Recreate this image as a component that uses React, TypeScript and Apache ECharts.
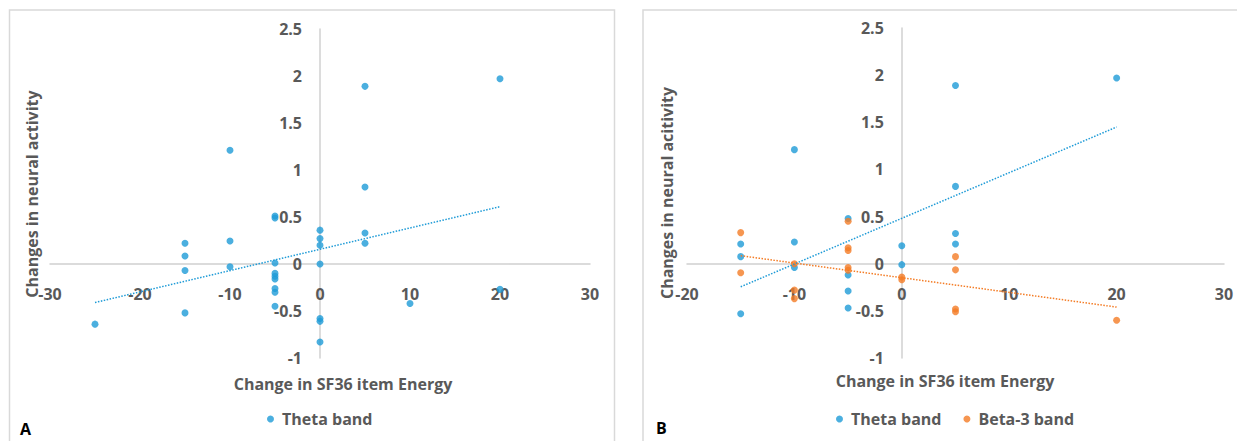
import React, { useEffect, useRef } from "react";
import * as echarts from "echarts";

// Panel A: Theta band (x = change in SF36 Energy, y = change in neural activity)
const thetaA: number[][] = [
  [-25, -0.64],
  [-15, 0.22], [-15, 0.085], [-15, -0.07], [-15, -0.52],
  [-10, 1.21], [-10, 0.245], [-10, -0.03],
  [-5, 0.51], [-5, 0.49], [-5, 0.01], [-5, -0.1], [-5, -0.13], [-5, -0.16], [-5, -0.26], [-5, -0.3], [-5, -0.45],
  [0, 0.36], [0, 0.27], [0, 0.2], [0, 0.0], [0, -0.58], [0, -0.61], [0, -0.83],
  [5, 1.89], [5, 0.82], [5, 0.33], [5, 0.22],
  [10, -0.42],
  [20, 1.97], [20, -0.27],
];
const trendA: number[][] = [[-25, -0.41], [20, 0.61]];

// Panel B
const thetaB: number[][] = [
  [-15, 0.21], [-15, 0.075], [-15, -0.53],
  [-10, 1.21], [-10, 0.23], [-10, -0.04],
  [-5, 0.48], [-5, -0.12], [-5, -0.29], [-5, -0.47],
  [0, 0.19], [0, -0.01],
  [5, 1.89], [5, 0.82], [5, 0.32], [5, 0.21],
  [20, 1.97],
];
const beta3B: number[][] = [
  [-15, 0.33], [-15, -0.095],
  [-10, 0.0], [-10, -0.28], [-10, -0.37],
  [-5, 0.45], [-5, 0.17], [-5, 0.14], [-5, -0.04], [-5, -0.07],
  [0, -0.14], [0, -0.17],
  [5, 0.075], [5, -0.065], [5, -0.48], [5, -0.51],
  [20, -0.6],
];
const trendThetaB: number[][] = [[-15, -0.245], [20, 1.45]];
const trendBetaB: number[][] = [[-15, 0.085], [20, -0.46]];

const xRangeA = { min: -30, max: 30, interval: 10 };
const xRangeB = { min: -20, max: 30, interval: 10 };
const yRange = { min: -1, max: 2.5, interval: 0.5 };

const yTitleA = "Changes in neural activity";
const yTitleB = "Changes in neural acitivity";
const xTitle = "Change in SF36 item Energy";

const BLUE = "#1E9BD7";
const ORANGE = "#F47C25";
const GREY = "#595959";
const FONT = "'Open Sans', 'Liberation Sans', sans-serif";

const gridA = { left: 50, width: 540, top: 29, height: 329 };
const gridB = { left: 687, width: 537, top: 28, height: 330 };

export default function App() {
  const ref = useRef<HTMLDivElement>(null);
  useEffect(() => {
    const chart = echarts.init(ref.current!, null, { renderer: "svg" });
    const labelStyle = { color: GREY, fontSize: 16, fontWeight: "bold" as const, fontFamily: FONT };
    const axisLine = { onZero: false, lineStyle: { color: "#d0d0d0", width: 1.5 } };
    // move each axis onto the other axis's zero
    const zeroOffsetX = (g: any) => -g.height * (0 - yRange.min) / (yRange.max - yRange.min);
    const zeroOffsetY = (g: any, r: any) => -g.width * (0 - r.min) / (r.max - r.min);
    const mkX = (gridIndex: number, r: any, g: any) => ({
      type: "value", gridIndex, ...r, position: "bottom", offset: zeroOffsetX(g),
      axisLine, axisTick: { show: false }, splitLine: { show: false },
      axisLabel: { ...labelStyle, margin: 22 },
    });
    const mkY = (gridIndex: number, r: any, g: any) => ({
      type: "value", gridIndex, ...yRange, position: "left", offset: zeroOffsetY(g, r),
      axisLine, axisTick: { show: false }, splitLine: { show: false },
      axisLabel: { ...labelStyle, margin: 18 },
    });
    const scatter = (name: string, data: number[][], idx: number, color: string) => ({
      type: "scatter", name, xAxisIndex: idx, yAxisIndex: idx, data,
      symbolSize: 7, itemStyle: { color }, z: 3,
    });
    const trend = (data: number[][], idx: number, color: string) => ({
      type: "line", name: "trend" + idx + color, xAxisIndex: idx, yAxisIndex: idx, data,
      symbol: "none", lineStyle: { color, width: 1.5, type: [1.5, 1.5] }, z: 4, silent: true,
    });
    chart.setOption({
      animation: false,
      backgroundColor: "#ffffff",
      grid: [gridA, gridB],
      xAxis: [mkX(0, xRangeA, gridA), mkX(1, xRangeB, gridB)],
      yAxis: [mkY(0, xRangeA, gridA), mkY(1, xRangeB, gridB)],
      legend: [
        {
          data: ["Theta band"], left: 262, top: 406, icon: "circle",
          itemWidth: 7, itemHeight: 7, itemGap: 25, textStyle: { ...labelStyle, padding: [0, 0, 0, 3] },
        },
        {
          data: ["Theta band", "Beta-3 band"], left: 831, top: 406, icon: "circle",
          itemWidth: 7, itemHeight: 7, itemGap: 22, textStyle: { ...labelStyle, padding: [0, 0, 0, 3] },
        },
      ],
      graphic: [
        { type: "rect", shape: { x: 9.5, y: 10, width: 605, height: 460 }, style: { fill: "none", stroke: "#d9d9d9", lineWidth: 1.5 }, silent: true },
        { type: "rect", shape: { x: 643, y: 10, width: 620, height: 460 }, style: { fill: "none", stroke: "#d9d9d9", lineWidth: 1.5 }, silent: true },
        { type: "text", x: 32, y: 194, rotation: Math.PI / 2, style: { text: yTitleA, align: "center", verticalAlign: "middle", fill: GREY, font: `bold 16px ${FONT}` } },
        { type: "text", x: 667, y: 193, rotation: Math.PI / 2, style: { text: yTitleB, align: "center", verticalAlign: "middle", fill: GREY, font: `bold 16px ${FONT}` } },
        { type: "text", x: 343, y: 384, style: { text: xTitle, align: "center", verticalAlign: "middle", fill: GREY, font: `bold 16px ${FONT}` } },
        { type: "text", x: 945, y: 381, style: { text: xTitle, align: "center", verticalAlign: "middle", fill: GREY, font: `bold 16px ${FONT}` } },
        { type: "text", x: 20, y: 429, style: { text: "A", align: "left", verticalAlign: "middle", fill: "#000", font: `bold 16px ${FONT}` } },
        { type: "text", x: 656, y: 428, style: { text: "B", align: "left", verticalAlign: "middle", fill: "#000", font: `bold 16px ${FONT}` } },
      ],
      series: [
        scatter("Theta band", thetaA, 0, BLUE),
        trend(trendA, 0, BLUE),
        scatter("Theta band", thetaB, 1, BLUE),
        scatter("Beta-3 band", beta3B, 1, ORANGE),
        trend(trendThetaB, 1, BLUE),
        trend(trendBetaB, 1, ORANGE),
      ],
    });
    return () => chart.dispose();
  }, []);
  return (
    <div
      ref={ref}
      style={{ position: "fixed", left: 0, top: 0, width: 1237, height: 441, background: "#fff" }}
    />
  );
}
